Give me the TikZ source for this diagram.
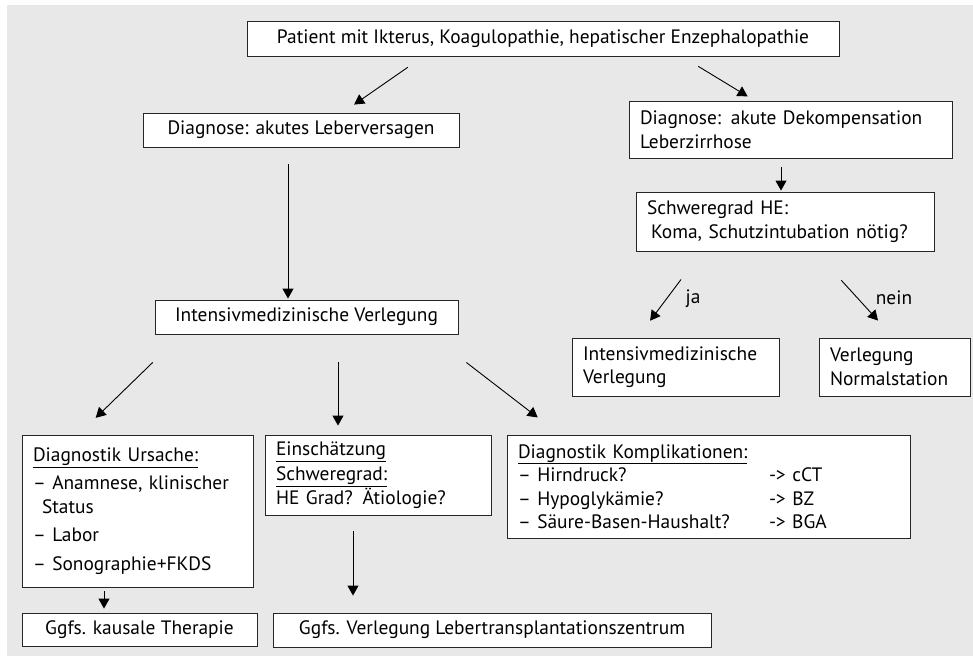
\documentclass[tikz,border=0pt]{standalone}
\usepackage{fontspec}
\setmainfont{PT Sans}
\usetikzlibrary{arrows.meta}
\definecolor{bggrey}{RGB}{232,232,232}
\begin{document}
\begin{tikzpicture}[x=1pt, y=-1pt]
    % Define styles
    \tikzset{
        stepbox/.style={
            draw=black!85,
            fill=white,
            line width=0.9pt,
            inner xsep=11pt,
            inner ysep=3pt,
            align=center,
            font=\fontsize{19.4}{23.5}\selectfont
        },
        listbox/.style={
            stepbox,
            align=left
        },
        answer/.style={
            font=\fontsize{19.4}{23.5}\selectfont
        },
        arrow/.style={
            -{Triangle[length=10pt, width=11pt]},
            line width=0.9pt
        }
    }

    % Background
    \useasboundingbox (0,0) rectangle (973,659);
    \fill[bggrey] (7,5) rectangle (973,656);

    % Top level
    \node[stepbox, minimum width=592pt, minimum height=35pt] (patient) at (543,38.5)
        {Patient mit Ikterus, Koagulopathie, hepatischer Enzephalopathie};

    % Left branch: acute liver failure
    \node[stepbox, minimum width=316pt, minimum height=34pt] (alv) at (301,130)
        {Diagnose: akutes Leberversagen};
    \node[stepbox, minimum width=303pt, minimum height=34pt] (icu) at (306.5,317)
        {Intensivmedizinische Verlegung};

    \node[listbox, text width=209pt, minimum height=152pt] (cause) at (137.5,511)
        {\underline{Diagnostik Ursache:}\\[5pt]
         – Anamnese, klinischer\\
         \hspace*{9pt}Status\\[5pt]
         – Labor\\[5pt]
         – Sonographie+FKDS};
    \node[listbox, text width=204pt, minimum height=80pt] (grade) at (378,475)
        {\underline{Einschätzung}\\[2pt]
         \underline{Schweregrad:}\\
         HE Grad? Ätiologie?};
    \node[listbox, text width=381pt, minimum height=103pt] (compl) at (708.5,486.5)
        {\underline{Diagnostik Komplikationen:}\\
         \makebox[251pt][l]{– Hirndruck?}-> cCT\\
         \makebox[251pt][l]{– Hypoglykämie?}-> BZ\\
         \makebox[251pt][l]{– Säure-Basen-Haushalt?}-> BGA};

    \node[stepbox, minimum width=235pt, minimum height=33pt] (therapy) at (139.5,629.5)
        {Ggfs. kausale Therapie};
    \node[stepbox, minimum width=438pt, minimum height=34pt] (ltx) at (492,630)
        {Ggfs. Verlegung Lebertransplantationszentrum};

    % Right branch: decompensated cirrhosis
    \node[listbox, text width=301pt, minimum height=57pt] (acld) at (790.5,129.5)
        {Diagnose: akute Dekompensation\\
         Leberzirrhose};
    \node[listbox, text width=276pt, minimum height=59pt] (hegrade) at (785,221.5)
        {Schweregrad HE:\\
         \hspace*{4pt}Koma, Schutzintubation nötig?};
    \node[listbox, text width=185pt, minimum height=58pt] (icuR) at (675.5,367)
        {Intensivmedizinische\\
         Verlegung};
    \node[listbox, text width=129pt, minimum height=58pt] (ward) at (894.5,367)
        {Verlegung\\
         Normalstation};

    \node[answer] (yes) at (693,299) {ja};
    \node[answer] (no) at (894,298) {nein};

    % Connections
    \draw[arrow, shorten <=19pt, shorten >=14pt] ([xshift=-119.6pt]patient.south) -- ([xshift=41.6pt]alv.north);
    \draw[arrow, shorten <=19pt, shorten >=8pt] ([xshift=139pt]patient.south) -- ([xshift=-36pt]acld.north);
    \draw[arrow, shorten <=17pt, shorten >=1pt] ([xshift=-13pt]alv.south) -- ([xshift=-13pt]alv.south |- icu.north);
    \draw[arrow, shorten <=9pt, shorten >=1pt] ([xshift=-9.5pt]acld.south) -- ([xshift=-9.5pt]acld.south |- hegrade.north);
    \draw[arrow, shorten <=35pt, shorten >=21pt] ([xshift=-83pt]hegrade.south) -- ([xshift=-38pt]icuR.north);
    \draw[arrow, shorten <=39pt, shorten >=23pt] ([xshift=30pt]hegrade.south) -- ([xshift=-1pt]ward.north);
    \draw[arrow, shorten <=40pt, shorten >=24pt] ([xshift=-125pt]icu.south) -- ([xshift=-59pt]cause.north);
    \draw[arrow, shorten <=28pt, shorten >=9pt] ([xshift=31.5pt]icu.south) -- ([xshift=31.5pt]icu.south |- grade.north);
    \draw[arrow, shorten <=46pt, shorten >=28pt] ([xshift=123.5pt]icu.south) -- ([xshift=-148.6pt]compl.north);
    \draw[arrow, shorten <=4pt, shorten >=4pt] ([xshift=-33.5pt]cause.south) -- ([xshift=-33.5pt]cause.south |- therapy.north);
    \draw[arrow, shorten <=16pt, shorten >=17pt] ([xshift=-25pt]grade.south) -- ([xshift=-25pt]grade.south |- ltx.north);

\end{tikzpicture}
\end{document}
